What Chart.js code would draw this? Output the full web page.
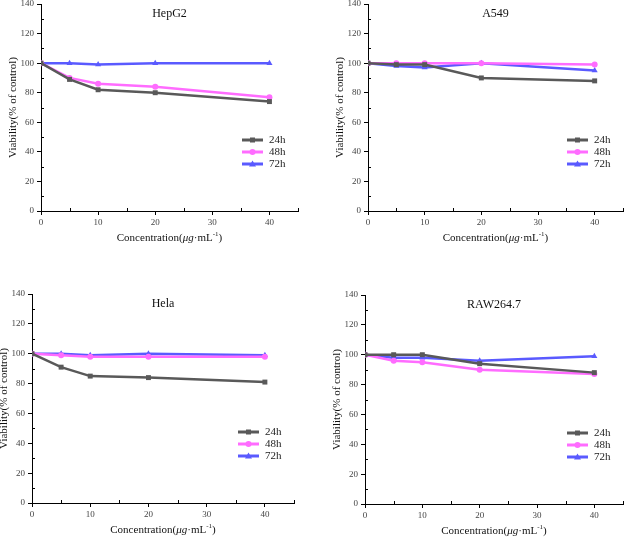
<!DOCTYPE html>
<html>
<head>
<meta charset="utf-8">
<script src="https://cdn.jsdelivr.net/npm/chart.js@4/dist/chart.umd.min.js"></script>
<style>
  html, body { margin: 0; padding: 0; background: #fff; overflow: hidden; }
  #wrap { position: relative; width: 627px; height: 537px; }
  canvas { position: absolute; }
</style>
</head>
<body>
<div id="wrap">
  <canvas id="hepg2" width="313" height="268" style="left:0;top:0"></canvas>
  <canvas id="a549" width="314" height="268" style="left:313px;top:0"></canvas>
  <canvas id="hela" width="313" height="269" style="left:0;top:268px"></canvas>
  <canvas id="raw" width="314" height="269" style="left:313px;top:268px"></canvas>
</div>
<script>
// concentrations (µg/mL) and time points
const concentrations = [0, 5, 10, 20, 40];
const timeLabels = ['24h', '48h', '72h'];

const xTicks = [0, 10, 20, 30, 40];
const xMinorTicks = [5, 15, 25, 35, 45];
const yTicks = [0, 20, 40, 60, 80, 100, 120, 140];
const yMinorTicks = [10, 30, 50, 70, 90, 110, 130];

// viability (% of control)
const hepg2_24h = [100, 89, 82, 80, 74];
const hepg2_48h = [100, 90, 86, 84, 77];
const hepg2_72h = [100, 100, 99, 100, 100];

const a549_24h = [100, 99, 99, 90, 88];
const a549_48h = [100, 100, 100, 100, 99];
const a549_72h = [100, 98, 97, 100, 95];

const hela_24h = [100, 91, 85, 84, 81];
const hela_48h = [100, 99, 98, 98, 98];
const hela_72h = [100, 100, 99, 100, 99];

const raw_24h = [100, 100, 100, 94, 88];
const raw_48h = [100, 96, 95, 90, 87];
const raw_72h = [100, 98, 98, 96, 99];

const seriesColors = ['#595959', '#ff6cff', '#5a5aff'];
const seriesMarkers = ['rect', 'circle', 'triangle'];
const SERIF = '"Liberation Serif", "Times New Roman", serif';

function toPoints(vals) {
    return concentrations.map((c, i) => ({ x: c, y: vals[i] }));
}

function drawMarker(ctx, style, x, y, color) {
    ctx.fillStyle = color;
    ctx.beginPath();
    if (style === 'rect') {
        ctx.rect(x - 2.5, y - 2.5, 5, 5);
    } else if (style === 'circle') {
        ctx.arc(x, y, 3, 0, Math.PI * 2);
    } else {
        ctx.moveTo(x, y - 3.5);
        ctx.lineTo(x + 3.5, y + 2.5);
        ctx.lineTo(x - 3.5, y + 2.5);
        ctx.closePath();
    }
    ctx.fill();
}

// draws panel title, axis titles, inward minor ticks and the legend
const panelDecor = {
    id: 'panelDecor',
    afterDraw(chart, args, opts) {
        const ctx = chart.ctx;
        const a = chart.chartArea;
        const xs = chart.scales.x;
        const ys = chart.scales.y;
        ctx.save();

        // minor ticks pointing inward
        ctx.strokeStyle = '#000';
        ctx.lineWidth = 1;
        ctx.beginPath();
        xMinorTicks.forEach(v => {
            const px = Math.round(xs.getPixelForValue(v)) + 0.5;
            ctx.moveTo(px, a.bottom);
            ctx.lineTo(px, a.bottom - 3);
        });
        yMinorTicks.forEach(v => {
            const py = Math.round(ys.getPixelForValue(v)) + 0.5;
            ctx.moveTo(a.left, py);
            ctx.lineTo(a.left + 3, py);
        });
        ctx.stroke();

        const cx = (a.left + a.right) / 2;

        // panel title inside plot
        ctx.fillStyle = '#111';
        ctx.font = '12px ' + SERIF;
        ctx.textAlign = 'center';
        ctx.textBaseline = 'middle';
        ctx.fillText(opts.title, cx, a.top + 10);

        // y title
        ctx.font = '11px ' + SERIF;
        ctx.save();
        ctx.translate(a.left - 28, (a.top + a.bottom) / 2);
        ctx.rotate(-Math.PI / 2);
        ctx.fillText('Viability(% of control)', 0, 0);
        ctx.restore();

        // x title with italic µg and superscript -1
        const parts = [
            { t: 'Concentration(', f: '11px ' + SERIF, dy: 0 },
            { t: 'μg', f: 'italic 11px ' + SERIF, dy: 0 },
            { t: '·mL', f: '11px ' + SERIF, dy: 0 },
            { t: '-1', f: '7px ' + SERIF, dy: -4 },
            { t: ')', f: '11px ' + SERIF, dy: 0 }
        ];
        let total = 0;
        parts.forEach(p => { ctx.font = p.f; p.w = ctx.measureText(p.t).width; total += p.w; });
        let x = cx - total / 2;
        const ty = a.bottom + 27;
        ctx.textAlign = 'left';
        parts.forEach(p => {
            ctx.font = p.f;
            ctx.fillText(p.t, x, ty + p.dy);
            x += p.w;
        });

        // legend, lower right of plot area
        chart.data.datasets.forEach((ds, i) => {
            const ly = a.bottom - 71 + 12 * i;
            const x0 = a.right - 56;
            const x1 = a.right - 35;
            ctx.strokeStyle = ds.borderColor;
            ctx.lineWidth = 3;
            ctx.beginPath();
            ctx.moveTo(x0, ly);
            ctx.lineTo(x1, ly);
            ctx.stroke();
            drawMarker(ctx, seriesMarkers[i], (x0 + x1) / 2, ly, ds.borderColor);
            ctx.fillStyle = '#222';
            ctx.font = '11px ' + SERIF;
            ctx.textAlign = 'left';
            ctx.fillText(ds.label, a.right - 29, ly + 0.5);
        });

        ctx.restore();
    }
};

function makePanel(canvasID, title, area, s24, s48, s72) {
    const canvas = document.getElementById(canvasID);
    const W = canvas.width;
    const H = canvas.height;
    const series = [s24, s48, s72];

    new Chart(canvas.getContext('2d'), {
        type: 'line',
        data: {
            datasets: series.map((vals, i) => ({
                label: timeLabels[i],
                data: toPoints(vals),
                borderColor: seriesColors[i],
                backgroundColor: seriesColors[i],
                borderWidth: 2.5,
                pointStyle: seriesMarkers[i],
                pointRadius: i === 1 ? 3 : 3.5,
                pointBorderWidth: 0,
                tension: 0
            }))
        },
        options: {
            responsive: false,
            animation: false,
            devicePixelRatio: 1,
            layout: { padding: { left: 0, top: area.t, right: W - area.r, bottom: 0 } },
            plugins: {
                legend: { display: false },
                title: { display: false },
                tooltip: { enabled: false },
                panelDecor: { title: title }
            },
            scales: {
                x: {
                    type: 'linear',
                    min: 0,
                    max: 45,
                    afterBuildTicks: s => { s.ticks = xTicks.map(v => ({ value: v })); },
                    afterFit: s => { s.height = H - area.b; s.paddingLeft = 0; s.paddingRight = 0; },
                    grid: { drawOnChartArea: false, drawTicks: true, tickLength: 4, color: '#000' },
                    border: { display: true, color: '#000', width: 1 },
                    ticks: { padding: 2, color: '#444', font: { family: SERIF, size: 9 }, maxRotation: 0 }
                },
                y: {
                    min: 0,
                    max: 140,
                    afterBuildTicks: s => { s.ticks = yTicks.map(v => ({ value: v })); },
                    afterFit: s => { s.width = area.l; s.paddingTop = 0; s.paddingBottom = 0; },
                    grid: { drawOnChartArea: false, drawTicks: true, tickLength: 4, color: '#000' },
                    border: { display: true, color: '#000', width: 1 },
                    ticks: { padding: 3, color: '#444', font: { family: SERIF, size: 9 } }
                }
            }
        },
        plugins: [panelDecor]
    });
}

makePanel('hepg2', 'HepG2', { l: 41, t: 3, r: 298, b: 211 }, hepg2_24h, hepg2_48h, hepg2_72h);
makePanel('a549', 'A549', { l: 55, t: 3, r: 313, b: 211 }, a549_24h, a549_48h, a549_72h);
makePanel('hela', 'Hela', { l: 32, t: 26, r: 294, b: 235 }, hela_24h, hela_48h, hela_72h);
makePanel('raw', 'RAW264.7', { l: 52, t: 27, r: 310, b: 236 }, raw_24h, raw_48h, raw_72h);
</script>
</body>
</html>
